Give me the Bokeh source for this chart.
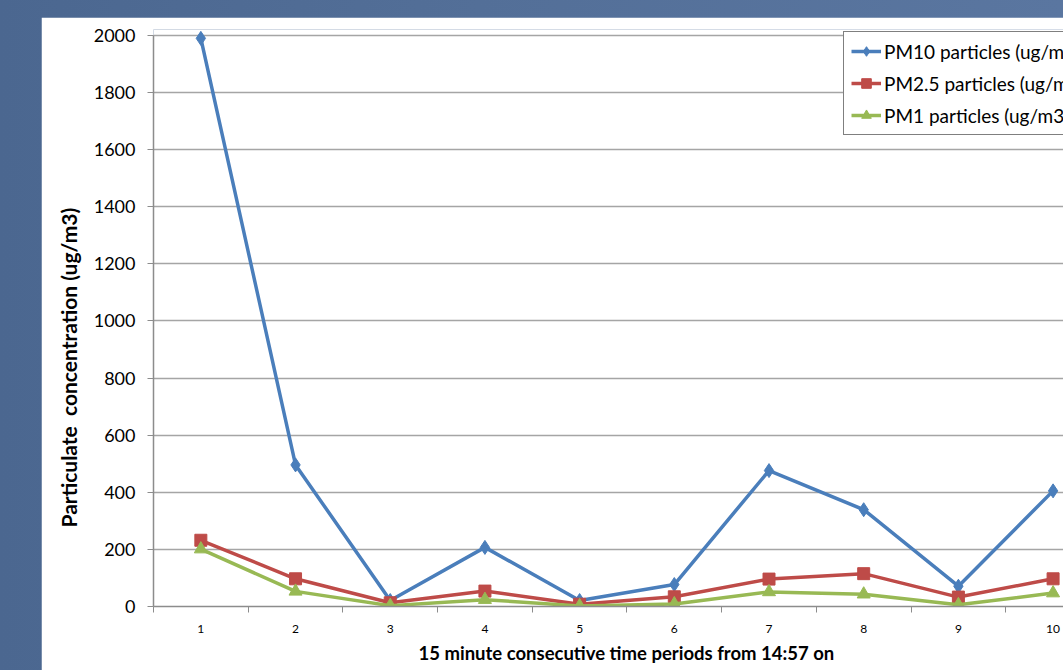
from bokeh.plotting import figure
from bokeh.layouts import column
from bokeh.models import (Range1d, FixedTicker, Legend, LegendItem, Title,
                          NumeralTickFormatter)
from bokeh.embed import file_html
from bokeh.resources import INLINE

# 15-minute periods starting 14:57
periods = [1, 2, 3, 4, 5, 6, 7, 8, 9, 10]
pm10 = [1990, 496, 21, 207, 21, 77, 476, 339, 71, 405]
pm25 = [232, 97, 13, 54, 8, 34, 96, 115, 33, 97]
pm1 = [201, 53, 3, 24, 2, 9, 51, 43, 6, 47]

y_ticks = [0, 200, 400, 600, 800, 1000, 1200, 1400, 1600, 1800, 2000]

FONT = "Lato"
BLUE = "#4a7ebb"
RED = "#be4b48"
GREEN = "#98b954"
GRID = "#a5a5a5"
AXIS = "#8c8c8c"

p = figure(width=1022, height=653, output_backend="svg", toolbar_location=None,
           x_range=Range1d(0.5, 10.11), y_range=Range1d(0, 2021),
           min_border_left=112, min_border_right=0, min_border_top=12,
           min_border_bottom=64, border_fill_color="white",
           background_fill_color="white", outline_line_color=None)
p.margin = (17, 0, 0, 41)

# y axis
p.yaxis.ticker = FixedTicker(ticks=y_ticks)
p.yaxis.bounds = (0, 2000)
p.yaxis.axis_line_color = AXIS
p.yaxis.axis_line_width = 1.5
p.yaxis.major_tick_line_color = AXIS
p.yaxis.major_tick_out = 6
p.yaxis.major_tick_in = 0
p.yaxis.minor_tick_line_color = None
p.yaxis.major_label_standoff = 12
p.yaxis.major_label_text_font = FONT
p.yaxis.major_label_text_font_size = "18px"
p.yaxis.major_label_text_color = "#000000"
p.yaxis.formatter = NumeralTickFormatter(format="0")

# x axis: labels at category centres, tick marks between categories
p.xaxis.ticker = FixedTicker(ticks=periods,
                             minor_ticks=[i + 0.5 for i in range(0, 11)])
p.xaxis.axis_line_color = AXIS
p.xaxis.axis_line_width = 1.5
p.xaxis.major_tick_line_color = None
p.xaxis.major_tick_out = 0
p.xaxis.major_tick_in = 0
p.xaxis.minor_tick_line_color = AXIS
p.xaxis.minor_tick_out = 6
p.xaxis.minor_tick_in = 0
p.xaxis.major_label_standoff = 12
p.xaxis.major_label_text_font = FONT
p.xaxis.major_label_text_font_size = "12px"
p.xaxis.major_label_text_color = "#000000"

p.xgrid.grid_line_color = None
p.ygrid.ticker = FixedTicker(ticks=y_ticks)
p.ygrid.grid_line_color = GRID
p.ygrid.grid_line_width = 1.5

# series
l10 = p.line(periods, pm10, line_color=BLUE, line_width=3.5)
m10 = p.scatter(periods, pm10, marker="diamond", size=14, fill_color=BLUE,
                line_color=BLUE)
l25 = p.line(periods, pm25, line_color=RED, line_width=3.5)
m25 = p.scatter(periods, pm25, marker="square", size=12, fill_color=RED,
                line_color=RED)
l1 = p.line(periods, pm1, line_color=GREEN, line_width=3.5)
m1 = p.scatter(periods, pm1, marker="triangle", size=13, fill_color=GREEN,
               line_color=GREEN)

legend = Legend(items=[
    LegendItem(label="PM10 particles (ug/m3)", renderers=[l10, m10]),
    LegendItem(label="PM2.5 particles (ug/m3)", renderers=[l25, m25]),
    LegendItem(label="PM1 particles (ug/m3)", renderers=[l1, m1]),
], location=(690, 471))
legend.border_line_color = "#000000"
legend.border_line_width = 1.2
legend.background_fill_color = "white"
legend.background_fill_alpha = 1
legend.padding = 7
legend.spacing = 8
legend.label_height = 24
legend.glyph_height = 24
legend.glyph_width = 30
legend.label_standoff = 3
legend.label_text_font = FONT
legend.label_text_font_size = "19px"
legend.label_text_color = "#000000"
p.add_layout(legend, "center")

# axis titles
x_title = Title(text="15 minute consecutive time periods from 14:57 on",
                align="left", offset=265, text_font=FONT,
                text_font_size="18.5px", text_font_style="bold",
                text_color="#000000", standoff=8)
p.add_layout(x_title, "below")
y_title = Title(text="Particulate\u00a0 concentration (ug/m3)",
                align="left", offset=79, vertical_align="top", text_font=FONT,
                text_font_size="21px", text_font_style="bold",
                text_color="#000000", standoff=16)
p.add_layout(y_title, "left")

page = column(p, width=1063, height=670, sizing_mode="fixed",
              styles={"background": "linear-gradient(90deg, #4b6790 0%, #536f98 45%, #5a76a0 100%)"})

open("out.html", "w").write(file_html(page, INLINE))
